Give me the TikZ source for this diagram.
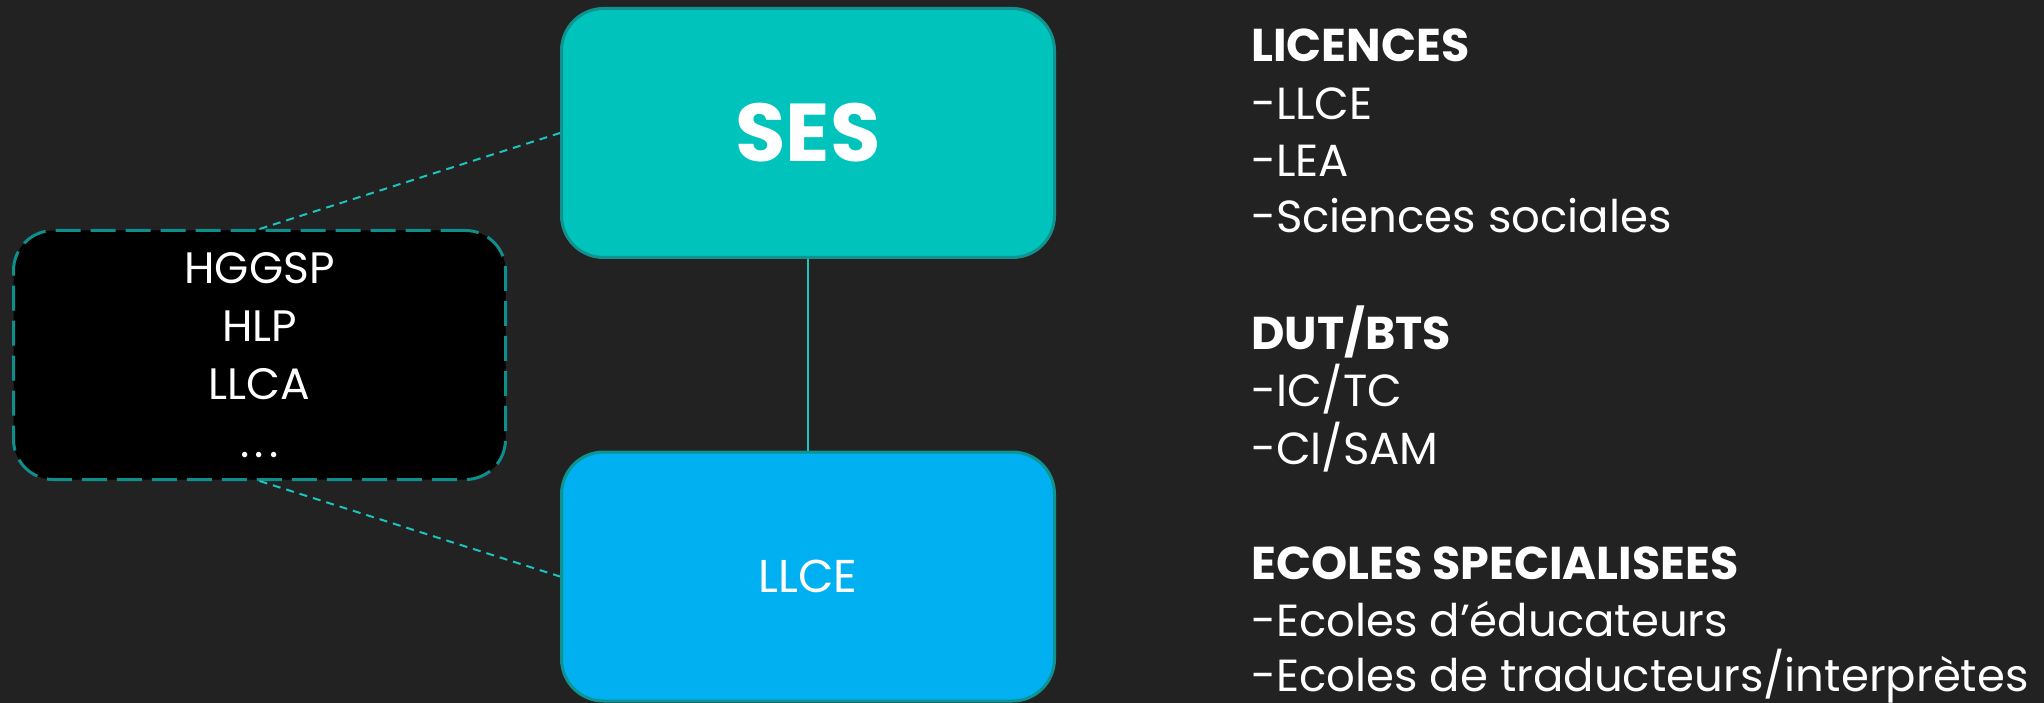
\documentclass[tikz,border=0pt]{standalone}
\usepackage{fontspec}
\setmainfont{Poppins}
\definecolor{bgc}{HTML}{222222}
\definecolor{sesfill}{HTML}{00C4BC}
\definecolor{llcefill}{HTML}{00B0F0}
\definecolor{boxborder}{HTML}{10938E}
\definecolor{dashborder}{HTML}{0E8F8C}
\definecolor{connc}{HTML}{1CC4BE}
\begin{document}
\begin{tikzpicture}[x=1pt,y=-1pt,
  solidbox/.style={draw=boxborder, line width=3pt, rounded corners=42pt,
    minimum width=493pt, minimum height=249pt, inner sep=0pt, text=white},
  dashbox/.style={draw=dashborder, fill=black, line width=3pt, rounded corners=40pt,
    dash pattern=on 25pt off 10pt, minimum width=492pt, minimum height=249pt,
    inner sep=0pt, text=white, align=center, font=\fontsize{44}{58}\selectfont},
  conn/.style={draw=connc, line width=2pt},
  dconn/.style={conn, dash pattern=on 8pt off 6pt},
  txt/.style={anchor=base west, text=white, inner sep=0pt, font=\fontsize{45}{58}\selectfont},
  hd/.style={txt, font=\fontsize{46}{58}\selectfont\bfseries}]
\fill[bgc] (0,0) rectangle (2044,703);
\useasboundingbox (0,0) rectangle (2044,703);
\node[solidbox, fill=sesfill, font=\fontsize{82}{100}\selectfont\bfseries] (ses) at (808,133) {SES};
\node[solidbox, fill=llcefill, font=\fontsize{46}{58}\selectfont] (llce) at (808,576.5) {LLCE};
\node[dashbox] (opt) at (259.5,355) {HGGSP\\HLP\\LLCA\\.\kern5pt.\kern5pt.};
\draw[conn] (ses.south) -- (llce.north);
\draw[dconn] (opt.north) -- (ses.west);
\draw[dconn] (opt.south) -- (llce.west);
\node[hd] (h1) at (1251,62) {LICENCES};
\node[txt] (l1) at (1251,120) {-LLCE};
\node[txt] (l2) at (1251,177) {-LEA};
\node[txt] (l3) at (1251,233) {-Sciences sociales};
\node[hd] (h2) at (1251,349) {DUT/BTS};
\node[txt] (l4) at (1251,406) {-IC/TC};
\node[txt] (l5) at (1251,464) {-CI/SAM};
\node[hd] (h3) at (1251,579) {ECOLES SPECIALISEES};
\node[txt] (l6) at (1251,636) {-Ecoles d’éducateurs};
\node[txt] (l7) at (1251,691) {-Ecoles de traducteurs/interprètes};
\end{tikzpicture}
\end{document}
